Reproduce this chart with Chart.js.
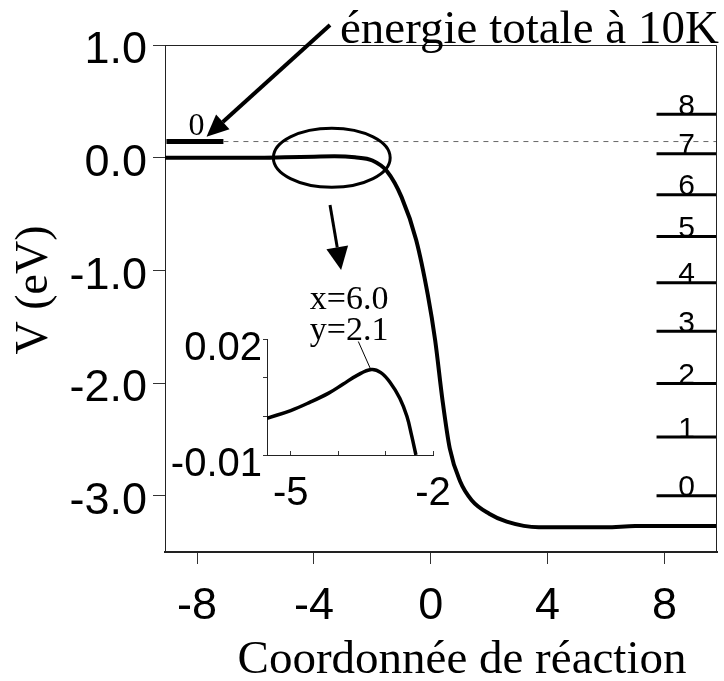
<!DOCTYPE html>
<html lang="fr">
<head>
<meta charset="UTF-8">
<title>Énergie potentielle - coordonnée de réaction</title>
<script src="https://cdn.jsdelivr.net/npm/chart.js"></script>
<style>
  body { margin: 0; background: #fff; }
  .cadre { position: relative; width: 724px; height: 681px; }
  #graphe { position: absolute; left: 0; top: 0; }
  #encart { position: absolute; left: 150px; top: 300px; }
</style>
</head>
<body>
<div class="cadre">
  <canvas id="graphe" width="724" height="681"></canvas>
  <canvas id="encart" width="310" height="220"></canvas>
</div>
<script>
// courbe principale V(x)
const coordX = [-9.1, -8, -6, -5, -4, -3.3, -2.6, -2, -1.5, -1, -0.5, -0.1, 0.15, 0.4, 0.65, 1.0, 1.4, 2.0, 2.6, 3.7, 5, 6, 7, 8, 9.8];
const energieV = [0, 0, 0, 0.004, 0.009, 0.012, 0.003, -0.025, -0.12, -0.35, -0.73, -1.22, -1.62, -2.15, -2.58, -2.87, -3.04, -3.16, -3.23, -3.28, -3.28, -3.28, -3.27, -3.27, -3.27];

const xTicks = [-8, -4, 0, 4, 8];
const yTicks = [1, 0, -1, -2, -3];

// niveaux vibrationnels (eV) a droite
const niveauxVib = [-3.0, -2.48, -2.005, -1.54, -1.11, -0.70, -0.33, 0.034, 0.386];
const niveauxNoms = ['0', '1', '2', '3', '4', '5', '6', '7', '8'];
// niveau 0 a gauche = energie totale a 10K
const niveauGauche = 0.143;

// encart : zoom sur la barriere
const encartX = [-5.5, -5.0, -4.6, -4.2, -3.9, -3.6, -3.3, -3.1, -2.9, -2.7, -2.55, -2.45, -2.36];
const encartV = [-0.0005, 0.0015, 0.0036, 0.006, 0.0083, 0.0106, 0.0121, 0.0113, 0.0087, 0.0047, 0.0, -0.005, -0.01];
const encartTicksX = [-5, -4, -3, -2];
const encartEtiqX = ['-5', '', '', '-2'];
const encartTicksY = [-0.01, 0, 0.01, 0.02];
const encartEtiqY = ['-0.01', '', '', '0.02'];

const sans = "'Liberation Sans', Arial, sans-serif";
const serif = "'Liberation Serif', 'Times New Roman', serif";

function fleche(ctx, x1, y1, x2, y2, ep, longTete, demi) {
    const a = Math.atan2(y2 - y1, x2 - x1);
    const bx = x2 - longTete * Math.cos(a), by = y2 - longTete * Math.sin(a);
    ctx.lineWidth = ep;
    ctx.beginPath(); ctx.moveTo(x1, y1); ctx.lineTo(bx, by); ctx.stroke();
    ctx.beginPath();
    ctx.moveTo(x2, y2);
    ctx.lineTo(bx + demi * Math.sin(a), by - demi * Math.cos(a));
    ctx.lineTo(bx - demi * Math.sin(a), by + demi * Math.cos(a));
    ctx.closePath(); ctx.fill();
}

function sansMarge(s) {
    s.paddingTop = 0; s.paddingBottom = 0; s.paddingLeft = 0; s.paddingRight = 0;
}

// annotations, etiquettes des niveaux, cadre, titres
const decor = {
    id: 'decor',
    afterDraw(chart) {
        const ctx = chart.ctx, xs = chart.scales.x, ys = chart.scales.y, ca = chart.chartArea;
        const px = v => xs.getPixelForValue(v), py = v => ys.getPixelForValue(v);
        ctx.save();
        ctx.strokeStyle = '#222'; ctx.fillStyle = '#000';
        ctx.lineWidth = 1;
        ctx.beginPath();
        ctx.moveTo(ca.left, ca.top + 0.5);
        ctx.lineTo(ca.right - 0.5, ca.top + 0.5);
        ctx.lineTo(ca.right - 0.5, ca.bottom);
        ctx.stroke();

        // etiquettes des niveaux
        ctx.font = '30px ' + sans;
        ctx.textAlign = 'center'; ctx.textBaseline = 'alphabetic';
        niveauxVib.forEach((v, i) => ctx.fillText(niveauxNoms[i], px(8.76), py(v) + 0.5));
        ctx.font = '32px ' + serif;
        ctx.fillText('0', px(-8.02), py(0.2));

        // ellipse autour de la barriere
        ctx.strokeStyle = '#000'; ctx.lineWidth = 3;
        ctx.beginPath();
        ctx.ellipse(px(-3.39), py(0), px(-1.39) - px(-3.39), py(0) - py(0.262), 0, 0, Math.PI * 2);
        ctx.stroke();

        // fleches
        fleche(ctx, px(-3.45), py(1.178), px(-7.68), py(0.186), 4, 22, 10);
        fleche(ctx, px(-3.45), py(-0.42), px(-3.07), py(-0.998), 3, 23, 11);

        // textes
        ctx.textAlign = 'left';
        ctx.font = '47px ' + serif;
        ctx.fillText('énergie totale à 10K', px(-3.11), py(1.018));
        ctx.font = '34px ' + serif;
        ctx.fillText('x=6.0', px(-4.14), py(-1.343));
        ctx.fillText('y=2.1', px(-4.14), py(-1.618));

        // titres des axes
        ctx.font = '47px ' + serif;
        ctx.textAlign = 'center';
        ctx.fillText('Coordonnée de réaction', 462, 673);
        ctx.font = '46px ' + serif;
        ctx.translate(35, 290);
        ctx.rotate(-Math.PI / 2);
        ctx.textBaseline = 'middle';
        ctx.fillText('V (eV)', 0, 0);
        ctx.restore();
    }
};

const jeux = [
    {
        data: [{ x: -7.1, y: niveauGauche }, { x: 9.8, y: niveauGauche }],
        borderColor: '#666', borderWidth: 1, borderDash: [5, 5], pointRadius: 0
    },
    {
        data: [{ x: -9.05, y: niveauGauche }, { x: -7.1, y: niveauGauche }],
        borderColor: '#000', borderWidth: 5, pointRadius: 0
    },
    ...niveauxVib.map(v => ({
        data: [{ x: 7.73, y: v }, { x: 9.8, y: v }],
        borderColor: '#000', borderWidth: 3, pointRadius: 0
    })),
    {
        data: coordX.map((x, i) => ({ x: x, y: energieV[i] })),
        borderColor: '#000', borderWidth: 4, pointRadius: 0,
        cubicInterpolationMode: 'monotone'
    }
];

new Chart(document.getElementById('graphe'), {
    type: 'line',
    data: { datasets: jeux },
    options: {
        responsive: false,
        animation: false,
        layout: { padding: { left: 0, top: 45, right: 7, bottom: 0 } },
        plugins: { legend: { display: false }, tooltip: { enabled: false } },
        scales: {
            x: {
                type: 'linear', min: -9.1, max: 9.8,
                afterBuildTicks: s => { s.ticks = xTicks.map(v => ({ value: v })); },
                afterFit: s => { s.height = 129; sansMarge(s); },
                grid: { drawOnChartArea: false, drawTicks: true, tickLength: 12, color: '#333' },
                border: { color: '#222', width: 2 },
                ticks: {
                    font: { family: sans, size: 45 }, color: '#000', padding: 16,
                    maxRotation: 0, autoSkip: false,
                    callback: v => String(v)
                }
            },
            y: {
                type: 'linear', min: -3.5, max: 1.0,
                afterBuildTicks: s => { s.ticks = yTicks.map(v => ({ value: v })); },
                afterFit: s => { s.width = 165; sansMarge(s); },
                grid: { drawOnChartArea: false, drawTicks: true, tickLength: 12, color: '#333' },
                border: { color: '#222', width: 1 },
                ticks: {
                    font: { family: sans, size: 45 }, color: '#000', padding: 6, labelOffset: 6,
                    callback: v => v.toFixed(1)
                }
            }
        }
    },
    plugins: [decor]
});

// trait vers le sommet de la barriere dans l'encart
const repere = {
    id: 'repere',
    afterDatasetsDraw(chart) {
        const ctx = chart.ctx;
        const sx = chart.scales.x.getPixelForValue(-3.3), sy = chart.scales.y.getPixelForValue(0.0121);
        ctx.save();
        ctx.strokeStyle = '#000'; ctx.lineWidth = 1;
        ctx.beginPath(); ctx.moveTo(sx - 1, sy - 1); ctx.lineTo(sx - 13, sy - 28); ctx.stroke();
        ctx.restore();
    }
};

new Chart(document.getElementById('encart'), {
    type: 'line',
    data: {
        datasets: [{
            data: encartX.map((x, i) => ({ x: x, y: encartV[i] })),
            borderColor: '#000', borderWidth: 3.5, pointRadius: 0,
            tension: 0.4
        }]
    },
    options: {
        responsive: false,
        animation: false,
        layout: { padding: { left: 0, top: 39, right: 27, bottom: 5 } },
        plugins: { legend: { display: false }, tooltip: { enabled: false } },
        scales: {
            x: {
                type: 'linear', min: -5.5, max: -2,
                afterBuildTicks: s => { s.ticks = encartTicksX.map(v => ({ value: v })); },
                afterFit: s => { s.height = 60; sansMarge(s); },
                grid: { drawOnChartArea: false, drawTicks: true, tickLength: -4, color: '#333' },
                border: { color: '#222', width: 1 },
                ticks: {
                    font: { family: sans, size: 40 }, color: '#000', padding: 19,
                    maxRotation: 0, autoSkip: false,
                    callback: (v, i) => encartEtiqX[i]
                }
            },
            y: {
                type: 'linear', min: -0.01, max: 0.02,
                afterBuildTicks: s => { s.ticks = encartTicksY.map(v => ({ value: v })); },
                afterFit: s => { s.width = 117; sansMarge(s); },
                grid: { drawOnChartArea: false, drawTicks: true, tickLength: 4, color: '#333' },
                border: { color: '#222', width: 1 },
                ticks: {
                    font: { family: sans, size: 40 }, color: '#000', padding: 1, labelOffset: 10,
                    autoSkip: false,
                    callback: (v, i) => encartEtiqY[i]
                }
            }
        }
    },
    plugins: [repere]
});
</script>
</body>
</html>
